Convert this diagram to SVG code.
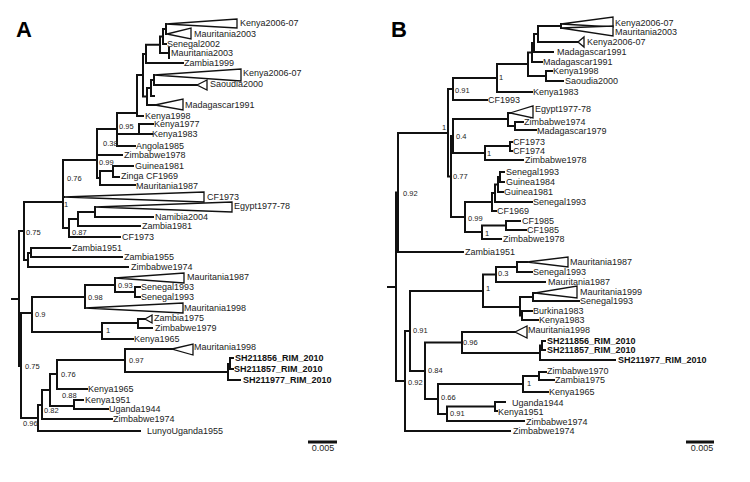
<svg xmlns="http://www.w3.org/2000/svg" width="750" height="482" viewBox="0 0 750 482">
<style>
.br{fill:none;stroke:#111;stroke-width:2;stroke-linecap:square}
.w{fill:#fff;stroke:#111;stroke-width:1.3;stroke-linejoin:miter}
text{font-family:"Liberation Sans",Arial,sans-serif;fill:#222}
.t{font-size:9px}
.b{font-size:9px;font-weight:bold;fill:#111}
.s{font-size:7.5px}
.p{font-size:22px;font-weight:bold;fill:#000}
.sc{font-size:9px;text-anchor:middle}
.bar{stroke:#111;stroke-width:3}
</style>
<rect width="750" height="482" fill="#fff"/>
<text class="p" x="16" y="37">A</text>
<text class="p" x="391" y="37">B</text>
<g id="connectors">
<path class="br" d="M166,24V34 M163,29V44 M163,29H166 M163,44H166 M160,36.5V53 M160,36.5H163 M160,53H169 M169,48V58 M146,44.75V63 M146,44.75H160 M146,63H183 M154,75V85 M154,85H197 M151,80V96 M151,80H154 M151,96H154 M147,88V105 M147,88H151 M147,105H155 M143,54V96.5 M143,54H146 M143,96.5H147 M137,75V116 M137,75H143 M137,116H143 M139,124V134 M139,124H153 M139,134H152 M117,113V146 M117,113H137 M117,134H139 M117,146H135 M97,129V178 M97,129H117 M97,155H122 M97,178H100 M100,171V185 M100,171H113 M100,185H135 M113,166V177 M113,166H133 M113,177H119 M63,160V228 M63,160H97 M63,197H64 M63,228H69 M95,207V217 M95,217H153 M78,212V226 M78,212H95 M78,226H140 M69,219V237 M69,219H78 M69,237H120 M24,202V260 M24,202H63 M24,260H28 M28,253V267 M28,253H31 M28,267H128 M31,248V257 M31,248H70 M31,257H122 M19,231V366 M12,299H19 M19,231H24 M19,366H21 M21,313V418 M21,313H32 M32,297V332 M32,297H85 M32,332H102 M85,285V308 M115,278V292 M85,285H115 M115,292H135 M135,287V297 M135,287H140 M135,297H140 M102,323V339 M102,339H133 M102,323H138 M138,319V328 M138,319H145 M138,328H152 M21,418H38 M38,405V431 M38,431H140 M42,390V419 M38,405H42 M42,419H112 M50,374V406 M42,390H50 M50,406H74 M74,400V409 M74,400H83 M74,409H108 M57,360V389 M50,374H57 M57,389H87 M57,360H125 M125,349V372 M125,349H172 M125,372H228 M228,364V380 M228,380H240 M228,364H230 M230,358V369 M230,358H233 M230,369H233"/>
<path class="br" d="M561,24V28 M538,26V42 M538,26H561 M538,42H578 M534,34V52 M534,34H538 M534,52H553 M532,43V62 M532,43H534 M532,62H542 M546,71V81 M546,71H552 M546,81H563 M528,52.5V76 M528,52.5H532 M528,76H546 M497,64V92 M497,64H528 M497,92H532 M453,78V100 M453,78H497 M453,100H487 M515,122V130 M515,122H523 M515,130H536 M508,113V126 M508,113H510 M508,126H515 M510,142V151 M510,142H512 M510,151H512 M485,146V160 M485,146H510 M485,160H523 M453,119V153 M453,119H508 M453,153H485 M500,172V182 M500,172H504 M500,182H504 M498,177V192 M498,177H500 M498,192H503 M495,184.5V202 M495,184.5H498 M495,202H532 M492,193V211 M492,193H495 M492,211H496 M506,221V230 M506,221H520 M506,230H526 M482,225.5V239 M482,225.5H506 M482,239H501 M465,202V232 M465,202H492 M465,232H482 M451,136V217 M451,136H453 M451,217H465 M448,89V176.5 M448,89H453 M448,176.5H451 M398,133V252 M398,133H448 M398,252H463 M396,192.5V381 M388,287H396 M396,192.5H398 M517,262V272 M517,262H527 M517,272H532 M496,267V282 M496,267H517 M496,282H545 M533,293V301 M533,293H535 M533,301H579 M522,311V320 M522,311H532 M522,320H538 M520,297V315.5 M520,297H533 M520,315.5H522 M483,274.5V307 M483,274.5H496 M483,307H520 M542,341V350 M542,341H545 M542,350H545 M540,345.5V360 M540,345.5H542 M540,360H615 M462,332V353 M462,332H515 M462,353H540 M539,372V380 M539,372H546 M539,380H554 M523,376V392 M523,376H539 M523,392H548 M495,402V411 M495,402H505 M495,411H497 M447,406.5V421 M447,406.5H495 M447,421H524 M438,384V414 M438,384H523 M438,414H447 M425,342.5V399 M425,342.5H462 M425,399H438 M410,291V371 M410,291H483 M410,371H425 M405,331V431 M405,331H410 M405,431H510 M396,381H405"/>
</g>
<g id="A-Kenya2006-07a"><polygon class="w" points="166,24 237,19 237,28"/><text class="t" x="240" y="26">Kenya2006-07</text></g>
<g id="A-Mauritania2003a"><polygon class="w" points="167,34 191,28 191,39"/><text class="t" x="194" y="37">Mauritania2003</text></g>
<g id="A-Senegal2002"><text class="t" x="167" y="47">Senegal2002</text></g>
<g id="A-Mauritania2003b"><text class="t" x="171" y="56">Mauritania2003</text></g>
<g id="A-Zambia1999"><text class="t" x="184" y="66">Zambia1999</text></g>
<g id="A-Kenya2006-07b"><polygon class="w" points="154,75 241,69 241,81"/><text class="t" x="243" y="76">Kenya2006-07</text></g>
<g id="A-Saoudia2000"><polygon class="w" points="197,85 207,80 207,90"/><text class="t" x="210" y="87">Saoudia2000</text></g>
<g id="A-Madagascar1991"><polygon class="w" points="155,105 183,99 183,110"/><text class="t" x="185" y="108">Madagascar1991</text></g>
<g id="A-Kenya1998"><text class="t" x="145" y="118.5">Kenya1998</text></g>
<g id="A-Kenya1977"><text class="t" x="154" y="127">Kenya1977</text></g>
<g id="A-Kenya1983"><text class="t" x="152" y="137">Kenya1983</text></g>
<g id="A-Angola1985"><text class="t" x="136" y="149">Angola1985</text></g>
<g id="A-Zimbabwe1978"><text class="t" x="124" y="158">Zimbabwe1978</text></g>
<g id="A-Guinea1981"><text class="t" x="135" y="169">Guinea1981</text></g>
<g id="A-ZingaCF1969"><text class="t" x="121" y="179">Zinga CF1969</text></g>
<g id="A-Mauritania1987a"><text class="t" x="136" y="188.5">Mauritania1987</text></g>
<g id="A-CF1973a"><polygon class="w" points="64,197 204,192 204,202"/><text class="t" x="207" y="200">CF1973</text></g>
<g id="A-Egypt1977-78"><polygon class="w" points="95,207 232,202 232,212"/><text class="t" x="234" y="209">Egypt1977-78</text></g>
<g id="A-Namibia2004"><text class="t" x="155" y="220">Namibia2004</text></g>
<g id="A-Zambia1981"><text class="t" x="142" y="229">Zambia1981</text></g>
<g id="A-CF1973b"><text class="t" x="122" y="240">CF1973</text></g>
<g id="A-Zambia1951"><text class="t" x="72" y="251">Zambia1951</text></g>
<g id="A-Zambia1955"><text class="t" x="124" y="260">Zambia1955</text></g>
<g id="A-Zimbabwe1974a"><text class="t" x="131" y="270">Zimbabwe1974</text></g>
<g id="A-Mauritania1987b"><polygon class="w" points="115,278 184,273 184,283"/><text class="t" x="187" y="280">Mauritania1987</text></g>
<g id="A-Senegal1993a"><text class="t" x="141" y="290">Senegal1993</text></g>
<g id="A-Senegal1993b"><text class="t" x="141" y="300">Senegal1993</text></g>
<g id="A-Mauritania1998a"><polygon class="w" points="85,308 183,303 183,313"/><text class="t" x="184" y="311">Mauritania1998</text></g>
<g id="A-Zambia1975"><polygon class="w" points="145,319 152,315 152,323"/><text class="t" x="154" y="321">Zambia1975</text></g>
<g id="A-Zimbabwe1979"><text class="t" x="155" y="331">Zimbabwe1979</text></g>
<g id="A-Kenya1965a"><text class="t" x="134" y="342">Kenya1965</text></g>
<g id="A-Mauritania1998b"><polygon class="w" points="172,349 193,344 193,355"/><text class="t" x="194" y="350">Mauritania1998</text></g>
<g id="A-SH211856"><text class="b" x="235" y="361">SH211856_RIM_2010</text></g>
<g id="A-SH211857"><text class="b" x="234" y="372">SH211857_RIM_2010</text></g>
<g id="A-SH211977"><text class="b" x="243" y="383">SH211977_RIM_2010</text></g>
<g id="A-Kenya1965b"><text class="t" x="88" y="392">Kenya1965</text></g>
<g id="A-Kenya1951"><text class="t" x="85" y="403">Kenya1951</text></g>
<g id="A-Uganda1944"><text class="t" x="109" y="412">Uganda1944</text></g>
<g id="A-Zimbabwe1974b"><text class="t" x="113" y="422">Zimbabwe1974</text></g>
<g id="A-LunyoUganda1955"><text class="t" x="147" y="434">LunyoUganda1955</text></g>
<g id="A-support">
<text class="s" x="119" y="129">0.95</text><text class="s" x="103" y="146">0.38</text><text class="s" x="99" y="165">0.99</text><text class="s" x="67" y="181">0.76</text><text class="s" x="64" y="207">1</text><text class="s" x="72" y="235">0.87</text><text class="s" x="26" y="235">0.75</text><text class="s" x="118" y="288">0.93</text><text class="s" x="88" y="300">0.98</text><text class="s" x="35" y="317">0.9</text><text class="s" x="106" y="333">1</text><text class="s" x="129" y="363">0.97</text><text class="s" x="61" y="377">0.76</text><text class="s" x="25" y="369">0.75</text><text class="s" x="62" y="398">0.88</text><text class="s" x="44" y="413">0.82</text><text class="s" x="23" y="426">0.96</text>
</g>
<g id="A-scale"><line class="bar" x1="308" y1="442" x2="337" y2="442"/><text class="sc" x="323" y="451">0.005</text></g>
<g id="B-Kenya2006-07a"><polygon class="w" points="561,24 613,17 613,27"/><text class="t" x="615" y="26">Kenya2006-07</text></g>
<g id="B-Mauritania2003"><polygon class="w" points="561,28 613,26 613,36"/><text class="t" x="615" y="35">Mauritania2003</text></g>
<g id="B-Kenya2006-07b"><polygon class="w" points="578,42 584,37 584,47"/><text class="t" x="587" y="45">Kenya2006-07</text></g>
<g id="B-Madagascar1991a"><text class="t" x="557" y="55">Madagascar1991</text></g>
<g id="B-Madagascar1991b"><text class="t" x="543" y="65">Madagascar1991</text></g>
<g id="B-Kenya1998"><text class="t" x="553" y="74">Kenya1998</text></g>
<g id="B-Saoudia2000"><text class="t" x="565" y="84">Saoudia2000</text></g>
<g id="B-Kenya1983a"><text class="t" x="533" y="95">Kenya1983</text></g>
<g id="B-CF1993"><text class="t" x="488" y="103">CF1993</text></g>
<g id="B-Egypt1977-78"><polygon class="w" points="510,113 533,106 533,118"/><text class="t" x="535" y="112">Egypt1977-78</text></g>
<g id="B-Zimbabwe1974a"><text class="t" x="524" y="125">Zimbabwe1974</text></g>
<g id="B-Madagascar1979"><text class="t" x="537" y="134">Madagascar1979</text></g>
<g id="B-CF1973"><text class="t" x="513" y="145">CF1973</text></g>
<g id="B-CF1974"><text class="t" x="513" y="154">CF1974</text></g>
<g id="B-Zimbabwe1978a"><text class="t" x="525" y="163">Zimbabwe1978</text></g>
<g id="B-Senegal1993a"><text class="t" x="506" y="175">Senegal1993</text></g>
<g id="B-Guinea1984"><text class="t" x="506" y="185">Guinea1984</text></g>
<g id="B-Guinea1981"><text class="t" x="504" y="195">Guinea1981</text></g>
<g id="B-Senegal1993b"><text class="t" x="533" y="205">Senegal1993</text></g>
<g id="B-CF1969"><text class="t" x="497" y="214">CF1969</text></g>
<g id="B-CF1985a"><text class="t" x="522" y="224">CF1985</text></g>
<g id="B-CF1985b"><text class="t" x="527" y="233">CF1985</text></g>
<g id="B-Zimbabwe1978b"><text class="t" x="503" y="242">Zimbabwe1978</text></g>
<g id="B-Zambia1951"><text class="t" x="465" y="255">Zambia1951</text></g>
<g id="B-Mauritania1987a"><polygon class="w" points="527,262 568,257 568,267"/><text class="t" x="570" y="265">Mauritania1987</text></g>
<g id="B-Senegal1993c"><text class="t" x="533" y="275">Senegal1993</text></g>
<g id="B-Mauritania1987b"><text class="t" x="548" y="285">Mauritania1987</text></g>
<g id="B-Mauritania1999"><polygon class="w" points="535,293 577,286 577,298"/><text class="t" x="580" y="295">Mauritania1999</text></g>
<g id="B-Senegal1993d"><text class="t" x="580" y="304">Senegal1993</text></g>
<g id="B-Burkina1983"><text class="t" x="533" y="314">Burkina1983</text></g>
<g id="B-Kenya1983b"><text class="t" x="539" y="323">Kenya1983</text></g>
<g id="B-Mauritania1998"><polygon class="w" points="515,332 527,326 527,338"/><text class="t" x="528" y="333">Mauritania1998</text></g>
<g id="B-SH211856"><text class="b" x="547" y="344">SH211856_RIM_2010</text></g>
<g id="B-SH211857"><text class="b" x="547" y="353">SH211857_RIM_2010</text></g>
<g id="B-SH211977"><text class="b" x="618" y="363">SH211977_RIM_2010</text></g>
<g id="B-Zimbabwe1970"><text class="t" x="547" y="374">Zimbabwe1970</text></g>
<g id="B-Zambia1975"><text class="t" x="555" y="383">Zambia1975</text></g>
<g id="B-Kenya1965"><text class="t" x="549" y="395">Kenya1965</text></g>
<g id="B-Uganda1944"><text class="t" x="512" y="406">Uganda1944</text></g>
<g id="B-Kenya1951"><text class="t" x="498" y="415">Kenya1951</text></g>
<g id="B-Zimbabwe1974b"><text class="t" x="526" y="424.5">Zimbabwe1974</text></g>
<g id="B-Zimbabwe1974c"><text class="t" x="513" y="434">Zimbabwe1974</text></g>
<g id="B-support">
<text class="s" x="499" y="80">1</text><text class="s" x="455" y="93">0.91</text><text class="s" x="442" y="130">1</text><text class="s" x="456" y="139">0.4</text><text class="s" x="487" y="156">1</text><text class="s" x="453" y="179">0.77</text><text class="s" x="403" y="196">0.92</text><text class="s" x="468" y="221">0.99</text><text class="s" x="485" y="236">1</text><text class="s" x="498" y="276">0.3</text><text class="s" x="486" y="291">1</text><text class="s" x="413" y="333">0.91</text><text class="s" x="463" y="345">0.96</text><text class="s" x="428" y="373">0.84</text><text class="s" x="408" y="385">0.92</text><text class="s" x="527" y="386">1</text><text class="s" x="441" y="400">0.66</text><text class="s" x="450" y="416">0.91</text>
</g>
<g id="B-scale"><line class="bar" x1="686" y1="442" x2="714" y2="442"/><text class="sc" x="702" y="451">0.005</text></g>
</svg>
